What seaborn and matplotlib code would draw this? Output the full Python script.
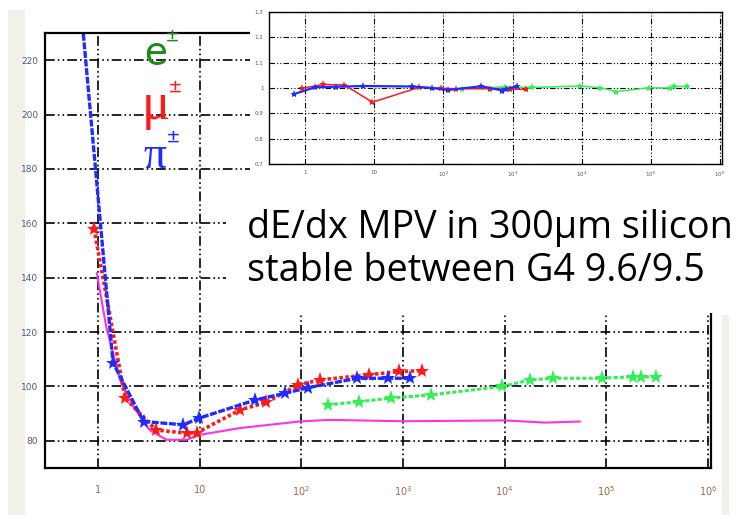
import matplotlib
matplotlib.use("Agg")
import matplotlib.pyplot as plt
import matplotlib.ticker as mticker
from matplotlib.patches import Rectangle
import numpy as np
import pandas as pd
import seaborn as sns

# ---------------- data (main panel: dE/dx MPV vs beta*gamma) ----------------
pi_x = [0.69, 1.4, 2.8, 6.9, 9.8, 35, 69, 115, 353, 710, 1170]
pi_v = [236, 108.7, 87.1, 85.9, 88.3, 95.0, 97.5, 99.5, 103.0, 103.0, 103.0]

mu_x = [0.91, 1.84, 3.7, 7.4, 9.4, 25, 45, 93, 152, 465, 905, 1550]
mu_v = [158.0, 95.7, 84.0, 82.8, 83.0, 91.4, 94.1, 100.6, 102.4, 104.3, 105.5, 105.8]

e_x = [182, 370, 760, 1870, 9400, 17800, 30000, 90000, 183000, 220000, 310000]
e_v = [93.2, 94.4, 95.7, 96.9, 100.0, 102.4, 103.0, 103.0, 103.6, 103.5, 103.5]

ref_x = [0.97, 1.2, 1.64, 2.22, 3.2, 4.7, 7.4, 10, 25, 95, 188, 1000, 10000, 25000, 55000]
ref_v = [141.7, 122.0, 102.4, 92.6, 84.0, 80.4, 80.4, 82.2, 84.7, 87.1, 87.7, 87.2, 87.5, 86.7, 87.1]

# ---------------- data (inset: ratio G4 9.6 / 9.5) ----------------
pi_rx = [0.69, 1.4, 2.8, 6.9, 35, 69, 115, 353, 710, 810, 1170]
pi_r = [0.976, 1.003, 1.005, 1.008, 1.006, 1.0, 0.992, 1.007, 0.990, 0.997, 1.006]
mu_rx = [0.91, 1.84, 3.7, 9.4, 45, 93, 152, 465, 905, 1550]
mu_r = [0.999, 1.014, 1.012, 0.944, 1.003, 0.999, 0.997, 0.997, 0.995, 0.995]
e_rx = [185, 775, 1920, 9500, 18600, 31800, 95000, 190000, 215000, 330000]
e_r = [0.998, 1.004, 1.002, 1.008, 1.001, 0.986, 1.001, 1.0, 1.006, 1.006]

main_yticks = [80, 100, 120, 140, 160, 180, 200, 220]
inset_yticks = [0.7, 0.8, 0.9, 1.0, 1.1, 1.2, 1.3]
inset_ylabels = ["0.7", "0.8", "0.9", "1", "1.1", "1.2", "1.3"]
decades = [1, 10, 100, 1000, 1e4, 1e5, 1e6]
decade_labels = ["1", "10", "$10^{2}$", "$10^{3}$", "$10^{4}$", "$10^{5}$", "$10^{6}$"]

main_text = ["dE/dx MPV in 300\u03bcm silicon", "stable between G4 9.6/9.5"]

# ---------------- style ----------------
sns.set_theme(style="white")
plt.rcParams["font.family"] = ["DejaVu Sans"]
plt.rcParams["lines.scale_dashes"] = False
plt.rcParams["axes.edgecolor"] = "black"

C_PI = "#1f2bff"
C_MU = "#ff1a1a"
C_E = "#33ee55"
C_REF = "#ff30e8"
GRID_LS = (0, (7, 2.2, 1.2, 2.2, 1.2, 2.2))

W, H = 754, 515
fig = plt.figure(figsize=(W / 100, H / 100), dpi=100)
fig.patch.set_facecolor("white")


def fx(px):
    return px / W


def fy(py):
    return 1 - py / H


# beige strips at the edges (behind everything)
fig.patches.append(Rectangle((fx(8), 0), fx(25) - fx(8), fy(10),
                             transform=fig.transFigure, facecolor="#f3f0ea",
                             edgecolor="none", zorder=-5))
fig.patches.append(Rectangle((fx(722), 0), fx(729) - fx(722), fy(315),
                             transform=fig.transFigure, facecolor="#f3f0ea",
                             edgecolor="none", zorder=-5))

# main axes
ax = fig.add_axes([fx(45), fy(468), fx(711) - fx(45), fy(33) - fy(468)])
ax.set_zorder(0)


def mk(x, y):
    return pd.DataFrame({"x": x, "y": y})


sns.lineplot(data=mk(ref_x, ref_v), x="x", y="y", ax=ax, color=C_REF,
             linewidth=1.5, sort=False, estimator=None)
sns.lineplot(data=mk(e_x, e_v), x="x", y="y", ax=ax, color=C_E, linewidth=2.2,
             linestyle=(0, (3, 1.5)), marker="*", markersize=11,
             markeredgewidth=0, sort=False, estimator=None)
sns.lineplot(data=mk(mu_x, mu_v), x="x", y="y", ax=ax, color=C_MU, linewidth=2.6,
             linestyle=(0, (2.5, 1.8)), marker="*", markersize=11,
             markeredgewidth=0, sort=False, estimator=None)
sns.lineplot(data=mk(pi_x, pi_v), x="x", y="y", ax=ax, color=C_PI, linewidth=2.4,
             linestyle=(0, (5, 1.2)), marker="*", markersize=11,
             markeredgewidth=0, sort=False, estimator=None)

ax.set_xscale("log")
ax.set_xlim(0.3, 1.07e6)
ax.set_ylim(70, 230)
ax.set_xlabel("")
ax.set_ylabel("")
ax.xaxis.set_major_locator(mticker.FixedLocator(decades))
ax.xaxis.set_major_formatter(mticker.FixedFormatter(decade_labels))
ax.xaxis.set_minor_locator(mticker.LogLocator(base=10, subs=np.arange(2, 10), numticks=20))
ax.xaxis.set_minor_formatter(mticker.NullFormatter())
ax.yaxis.set_major_locator(mticker.FixedLocator(main_yticks))
ax.yaxis.set_major_formatter(mticker.FixedFormatter([str(v) for v in main_yticks]))
ax.yaxis.set_minor_locator(mticker.MultipleLocator(5))
ax.tick_params(axis="both", which="both", direction="in", color="black", width=1.3)
ax.tick_params(axis="x", which="major", length=9, labelsize=7, pad=12, labelcolor="#a0674a")
ax.tick_params(axis="x", which="minor", length=6)
ax.tick_params(axis="y", which="both", length=7, labelsize=6.5, pad=5, labelcolor="#4a5a80")
ax.grid(True, which="major", color="black", linewidth=1.2, linestyle=GRID_LS)
for s in ax.spines.values():
    s.set_linewidth(1.6)
    s.set_color("black")

# white covers (inset frame and text box)
fig.patches.append(Rectangle((fx(250), fy(188)), 1 - fx(250), fy(0) - fy(188),
                             transform=fig.transFigure, facecolor="white",
                             edgecolor="none", zorder=1))
fig.patches.append(Rectangle((fx(226), fy(313)), 1 - fx(226), fy(185) - fy(313),
                             transform=fig.transFigure, facecolor="white",
                             edgecolor="none", zorder=1))

# inset axes
axi = fig.add_axes([fx(269), fy(164), fx(722) - fx(269), fy(12) - fy(164)])
axi.set_zorder(2)
axi.set_facecolor("white")
sns.lineplot(data=mk(e_rx, e_r), x="x", y="y", ax=axi, color=C_E, linewidth=1.1,
             marker="*", markersize=6, markeredgewidth=0, sort=False, estimator=None)
sns.lineplot(data=mk(mu_rx, mu_r), x="x", y="y", ax=axi, color=C_MU, linewidth=1.1,
             marker="*", markersize=6, markeredgewidth=0, sort=False, estimator=None)
sns.lineplot(data=mk(pi_rx, pi_r), x="x", y="y", ax=axi, color=C_PI, linewidth=1.6,
             marker="*", markersize=6, markeredgewidth=0, sort=False, estimator=None)
axi.set_xscale("log")
axi.set_xlim(0.3, 1.07e6)
axi.set_ylim(0.7, 1.3)
axi.set_xlabel("")
axi.set_ylabel("")
axi.xaxis.set_major_locator(mticker.FixedLocator(decades))
axi.xaxis.set_major_formatter(mticker.FixedFormatter(decade_labels))
axi.xaxis.set_minor_locator(mticker.LogLocator(base=10, subs=np.arange(2, 10), numticks=20))
axi.xaxis.set_minor_formatter(mticker.NullFormatter())
axi.yaxis.set_major_locator(mticker.FixedLocator(inset_yticks))
axi.yaxis.set_major_formatter(mticker.FixedFormatter(inset_ylabels))
axi.yaxis.set_minor_locator(mticker.MultipleLocator(0.02))
axi.tick_params(axis="both", which="both", direction="in", color="black", width=0.8)
axi.tick_params(axis="x", which="major", length=5, labelsize=4, pad=4, labelcolor="#555555")
axi.tick_params(axis="x", which="minor", length=3)
axi.tick_params(axis="y", which="major", length=6, labelsize=4, pad=4, labelcolor="#555555")
axi.tick_params(axis="y", which="minor", length=5)
axi.grid(True, which="major", color="black", linewidth=0.8,
         linestyle=(0, (4, 1.5, 0.8, 1.5, 0.8, 1.5)))
for s in axi.spines.values():
    s.set_linewidth(1.0)
    s.set_color("black")

# particle labels
sym_font = ["Liberation Serif", "DejaVu Serif"]
fig.text(fx(144), fy(65), "e", color="#1e8a1e", fontsize=31, family=["Lato", "DejaVu Sans"],
         zorder=3, va="baseline")
fig.text(fx(166), fy(42), "\u00b1", color="#1e8a1e", fontsize=16, family=["Lato", "DejaVu Sans"],
         zorder=3, va="baseline")
fig.text(fx(142), fy(119), "\u03bc", color=C_MU, fontsize=38, family=sym_font,
         zorder=3, va="baseline")
fig.text(fx(169), fy(93), "\u00b1", color=C_MU, fontsize=16, family=["Lato", "DejaVu Sans"],
         zorder=3, va="baseline")
fig.text(fx(143), fy(168), "\u03c0", color=C_PI, fontsize=33, family=sym_font,
         zorder=3, va="baseline")
fig.text(fx(167), fy(143), "\u00b1", color=C_PI, fontsize=16, family=["Lato", "DejaVu Sans"],
         zorder=3, va="baseline")

# annotation text
fig.text(fx(247), fy(238), main_text[0], color="black", fontsize=27.2,
         family=["Open Sans", "DejaVu Sans"], zorder=3, va="baseline")
fig.text(fx(247), fy(281), main_text[1], color="black", fontsize=27.2,
         family=["Open Sans", "DejaVu Sans"], zorder=3, va="baseline")

fig.savefig("out.png", dpi=100, facecolor="white")
